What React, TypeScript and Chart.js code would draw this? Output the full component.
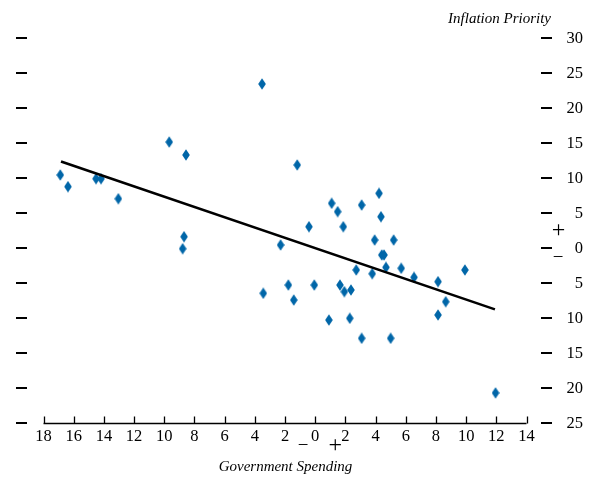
import React, { useEffect, useRef } from 'react';
import { Chart, registerables } from 'chart.js';

Chart.register(...registerables);

// Government spending position (x) — negative = left of 0
const spendingX = [
  -16.89, -16.38, -14.52, -14.19, -13.04, -9.67, -8.56, -8.69, -8.78, -3.52,
  -3.44, -1.19, -2.29, -1.78, -1.42, -0.41, -0.06, 1.09, 0.91, 1.49,
  1.86, 1.64, 1.93, 2.37, 2.29, 2.72, 3.08, 3.08, 3.94, 3.78,
  4.23, 4.36, 4.41, 4.56, 4.69, 5.2, 5.0, 5.7, 6.55, 8.14,
  8.65, 8.14, 9.92, 11.95,
];
// Inflation priority (y)
const inflationY = [
  10.43, 8.76, 9.9, 9.9, 7.04, 15.14, 13.29, 1.61, -0.1, 23.43,
  -6.47, 11.86, 0.43, -5.29, -7.43, 3.04, -5.29, 6.39, -10.29, 5.19,
  3.04, -5.29, -6.24, -6.0, -10.04, -3.14, 6.14, -12.9, 1.14, -3.67,
  7.81, 4.47, -1.0, -1.0, -2.76, 1.14, -12.9, -2.9, -4.19, -4.81,
  -7.67, -9.57, -3.14, -20.7,
];
// Fitted line end points
const fitX = [-16.84, 11.91];
const fitY = [12.36, -8.77];

const xTicks = [-18, -16, -14, -12, -10, -8, -6, -4, -2, 0, 2, 4, 6, 8, 10, 12, 14];
const yTicks = [30, 25, 20, 15, 10, 5, 0, -5, -10, -15, -20, -25];

const xTitle = 'Government Spending';
const yTitle = 'Inflation Priority';

const POINT_COLOR = '#0066a8';
const NUM_FONT = '16.5px "Liberation Serif", serif';
const TITLE_FONT = 'italic 15px "Liberation Serif", serif';

function makeDiamond(): HTMLCanvasElement {
  const c = document.createElement('canvas');
  c.width = 8;
  c.height = 12;
  const g = c.getContext('2d')!;
  g.fillStyle = POINT_COLOR;
  g.beginPath();
  g.moveTo(4, 0.3);
  g.lineTo(7.8, 6);
  g.lineTo(4, 11.7);
  g.lineTo(0.2, 6);
  g.closePath();
  g.fill();
  return c;
}

const axesPlugin = {
  id: 'customAxes',
  afterDraw(chart: any) {
    const ctx = chart.ctx as CanvasRenderingContext2D;
    const xs = chart.scales.x;
    const ys = chart.scales.y;
    ctx.save();
    ctx.strokeStyle = '#000';
    ctx.fillStyle = '#000';

    // x axis line with upward ticks
    const axisY = Math.round(ys.getPixelForValue(-25)) + 0.5;
    ctx.lineWidth = 1.3;
    ctx.beginPath();
    ctx.moveTo(xs.getPixelForValue(xTicks[0]), axisY);
    ctx.lineTo(xs.getPixelForValue(xTicks[xTicks.length - 1]), axisY);
    for (const t of xTicks) {
      const px = Math.round(xs.getPixelForValue(t)) + 0.5;
      ctx.moveTo(px, axisY);
      ctx.lineTo(px, axisY - 7);
    }
    ctx.stroke();

    // x tick labels
    ctx.font = NUM_FONT;
    ctx.textAlign = 'center';
    ctx.textBaseline = 'middle';
    for (const t of xTicks) {
      ctx.fillText(String(Math.abs(t)), xs.getPixelForValue(t), axisY + 13);
    }
    const zeroX = xs.getPixelForValue(0);
    ctx.font = '19px "Liberation Serif", serif';
    ctx.fillText('\u2212', zeroX - 12, axisY + 23);
    ctx.font = '24px "Liberation Serif", serif';
    ctx.fillText('+', zeroX + 20, axisY + 22);

    // y dashes on both sides and right labels
    ctx.lineWidth = 2;
    ctx.beginPath();
    for (const t of yTicks) {
      const py = Math.round(ys.getPixelForValue(t));
      ctx.moveTo(16, py);
      ctx.lineTo(27, py);
      ctx.moveTo(541, py);
      ctx.lineTo(552, py);
    }
    ctx.stroke();
    ctx.font = NUM_FONT;
    ctx.textAlign = 'right';
    for (const t of yTicks) {
      ctx.fillText(String(Math.abs(t)), 583, ys.getPixelForValue(t) + 1);
    }
    const zeroY = ys.getPixelForValue(0);
    ctx.textAlign = 'center';
    ctx.font = '24px "Liberation Serif", serif';
    ctx.fillText('+', 558.5, zeroY - 17);
    ctx.font = '19px "Liberation Serif", serif';
    ctx.fillText('\u2212', 558, zeroY + 10);

    // titles
    ctx.font = TITLE_FONT;
    ctx.textAlign = 'right';
    ctx.textBaseline = 'alphabetic';
    ctx.fillText(yTitle, 551, 23);
    ctx.textAlign = 'center';
    ctx.fillText(xTitle, 285.5, 471);
    ctx.restore();
  },
};

export default function App() {
  const ref = useRef<HTMLCanvasElement | null>(null);
  useEffect(() => {
    if (!ref.current) return;
    const diamond = makeDiamond();
    const points = spendingX.map((x, i) => ({ x, y: inflationY[i] }));
    const fit = fitX.map((x, i) => ({ x, y: fitY[i] }));
    const chart = new Chart(ref.current, {
      type: 'scatter',
      data: {
        datasets: [
          {
            label: 'fit',
            data: fit,
            showLine: true,
            borderColor: '#000',
            borderWidth: 2.6,
            pointRadius: 0,
            fill: false,
          } as any,
          {
            label: 'points',
            data: points,
            pointStyle: diamond as any,
            pointRadius: 5,
            backgroundColor: POINT_COLOR,
            borderColor: POINT_COLOR,
          },
        ],
      },
      options: {
        animation: false,
        responsive: false,
        events: [],
        layout: { padding: { left: 43.5, right: 64.5, top: 38, bottom: 54 } },
        plugins: { legend: { display: false }, tooltip: { enabled: false } },
        scales: {
          x: { type: 'linear', min: -18, max: 14, display: false },
          y: { type: 'linear', min: -25, max: 30, display: false },
        },
      },
      plugins: [axesPlugin],
    });
    return () => chart.destroy();
  }, []);
  return (
    <div style={{ position: 'absolute', left: 0, top: 0, width: 591, height: 477, background: '#fff' }}>
      <canvas ref={ref} width={591} height={477} />
    </div>
  );
}
